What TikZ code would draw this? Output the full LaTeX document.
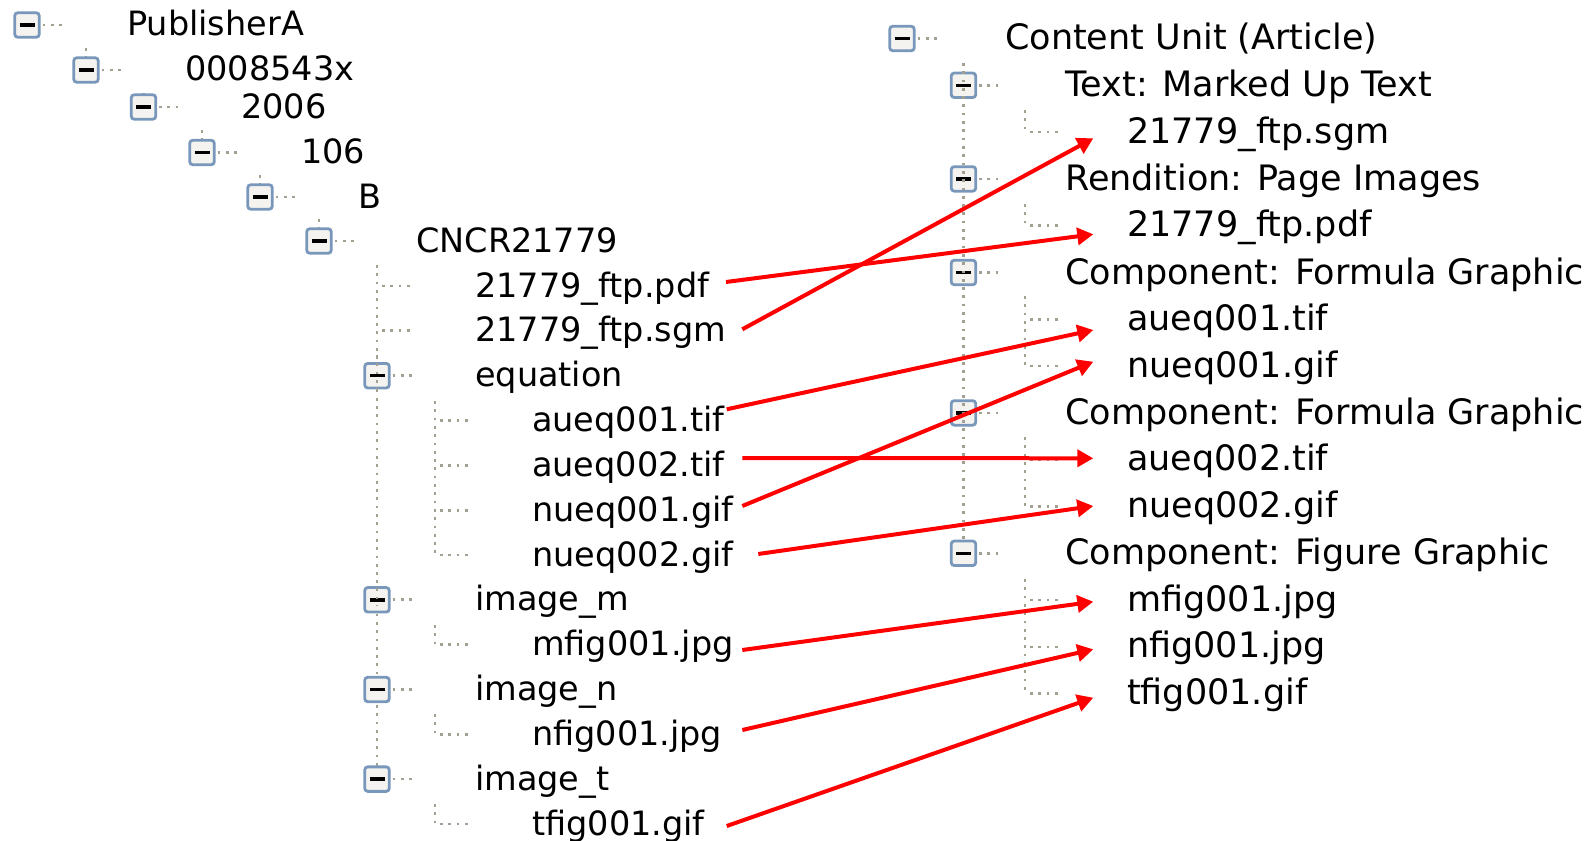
\documentclass[tikz,border=0pt]{standalone}
\usepackage{fontspec}
\setmainfont{DejaVu Sans}
\usetikzlibrary{arrows.meta}
\definecolor{boxblue}{HTML}{7897BA}
\definecolor{boxfill}{HTML}{F4F3EF}
\definecolor{dotgray}{HTML}{A3A091}
\newcommand\fsL{\fontsize{33.5}{40}\selectfont}
\newcommand\fsR{\fontsize{35}{42}\selectfont}
\tikzset{
  tbox/.style={draw=boxblue, line width=2.8pt, rounded corners=3pt, fill=boxfill,
    minimum size=24.5pt, inner sep=0pt},
  minus/.style={draw=black, line width=3.4pt},
  lblL/.style={anchor=base west, inner sep=0pt, font=\fsL},
  lblR/.style={anchor=base west, inner sep=0pt, font=\fsR},
  dots/.style={draw=dotgray, line width=2.7pt, dash pattern=on 2.7pt off 5.6pt},
  arr/.style={draw=red, line width=4pt, -{Triangle[length=16pt,width=17pt]}},
}
\begin{document}
\begin{tikzpicture}[x=1pt,y=-1pt]
\useasboundingbox (0,0) rectangle (1589,840);

% ---------------- left tree: dotted lines ----------------
\draw[dots] (86,48) -- (86,70);
\draw[dots] (143.5,93) -- (143.5,107);
\draw[dots] (202,130) -- (202,152.5);
\draw[dots] (260,175) -- (260,197);
\draw[dots] (319,219) -- (319,241);
\draw[dots] (377,265) -- (377,779.1);
\draw[dots] (435,401) -- (435,555);
\draw[dots] (435,625) -- (435,644.6);
\draw[dots] (435,714) -- (435,734.3);
\draw[dots] (435,804) -- (435,824);
% leaf connectors
\draw[dots] (382,286) -- (413,286);
\draw[dots] (382,330.8) -- (413,330.8);
\foreach \r in {420.5,465.3,510.2,555,644.6,734.3,824}
  \draw[dots] (440,\r) -- (471,\r);

% ---------------- left tree: boxes ----------------
\node[tbox] (bPub) at (27,25) {};
\node[tbox] (bIss) at (86,70) {};
\node[tbox] (bYr) at (143.5,107) {};
\node[tbox] (bVol) at (202,152.5) {};
\node[tbox] (bB) at (260,197) {};
\node[tbox] (bCN) at (319,241) {};
\node[tbox] (bEq) at (377,375.7) {};
\node[tbox] (bIm) at (377,599.8) {};
\node[tbox] (bIn) at (377,689.5) {};
\node[tbox] (bIt) at (377,779.1) {};
\foreach \b in {bPub,bIss,bYr,bVol,bB,bCN,bEq,bIm,bIn,bIt}{
  \draw[minus] ([xshift=-7.5pt]\b.center) -- ([xshift=7.5pt]\b.center);
  \draw[dots] ([xshift=2pt]\b.east) -- ++(22,0);
}
\draw[dots] (377,355) -- (377,395);
\draw[dots] (377,580) -- (377,605);

% ---------------- left tree: labels ----------------
\node[lblL] (tPub) at (127,36) {PublisherA};
\node[lblL] (tIss) at (185,81) {0008543x};
\node[lblL] (tYr) at (241,118) {2006};
\node[lblL] (tVol) at (301,163.5) {106};
\node[lblL] (tB) at (358,208) {B};
\node[lblL] (tCN) at (416,252) {CNCR21779};
\node[lblL] (lpdf) at (475,297) {21779\_ftp.pdf};
\node[lblL] (lsgm) at (475,341.8) {21779\_ftp.sgm};
\node[lblL] (tEq) at (475,386.7) {equation};
\node[lblL] (lau1) at (532,431.5) {aueq001.tif};
\node[lblL] (lau2) at (532,476.3) {aueq002.tif};
\node[lblL] (lnu1) at (532,521.2) {nueq001.gif};
\node[lblL] (lnu2) at (532,566) {nueq002.gif};
\node[lblL] (tIm) at (475,610.8) {image\_m};
\node[lblL] (lmf) at (532,655.6) {mfig001.jpg};
\node[lblL] (tIn) at (475,700.5) {image\_n};
\node[lblL] (lnf) at (532,745.3) {nfig001.jpg};
\node[lblL] (tIt) at (475,790.1) {image\_t};
\node[lblL] (ltf) at (532,835) {tfig001.gif};

% ---------------- right tree: dotted lines ----------------
\draw[dots] (963.5,63) -- (963.5,553.3);
\draw[dots] (1025,110) -- (1025,132.1);
\draw[dots] (1025,204) -- (1025,225.7);
\draw[dots] (1025,296) -- (1025,366.1);
\draw[dots] (1025,437) -- (1025,506.5);
\draw[dots] (1025,579) -- (1025,693.7);
\foreach \r in {132.1,225.7,319.3,366.1,459.7,506.5,600.1,646.9,693.7}
  \draw[dots] (1030,\r) -- (1062,\r);

% ---------------- right tree: boxes ----------------
\node[tbox] (bCU) at (902,38.5) {};
\node[tbox] (bTx) at (963.5,85.3) {};
\node[tbox] (bRe) at (963.5,178.9) {};
\node[tbox] (bF1) at (963.5,272.5) {};
\node[tbox] (bF2) at (963.5,412.9) {};
\node[tbox] (bFg) at (963.5,553.3) {};
\foreach \b in {bCU,bTx,bRe,bF1,bF2,bFg}{
  \draw[minus] ([xshift=-7.5pt]\b.center) -- ([xshift=7.5pt]\b.center);
  \draw[dots] ([xshift=2pt]\b.east) -- ++(22,0);
}
\draw[dots] (963.5,63) -- (963.5,425);

% ---------------- right tree: labels ----------------
\node[lblR] (tCU) at (1005,50) {Content Unit (Article)};
\node[lblR] (tTx) at (1065,96.8) {Text: Marked Up Text};
\node[lblR] (rsgm) at (1127,143.1) {21779\_ftp.sgm};
\node[lblR] (tRe) at (1065,190.4) {Rendition: Page Images};
\node[lblR] (rpdf) at (1127,236.7) {21779\_ftp.pdf};
\node[lblR] (tF1) at (1065,284) {Component: Formula Graphic};
\node[lblR] (rau1) at (1127,330.3) {aueq001.tif};
\node[lblR] (rnu1) at (1127,377.1) {nueq001.gif};
\node[lblR] (tF2) at (1065,424.4) {Component: Formula Graphic};
\node[lblR] (rau2) at (1127,470.7) {aueq002.tif};
\node[lblR] (rnu2) at (1127,517.5) {nueq002.gif};
\node[lblR] (tFg) at (1065,564.8) {Component: Figure Graphic};
\node[lblR] (rmf) at (1127,611.1) {mfig001.jpg};
\node[lblR] (rnf) at (1127,657.9) {nfig001.jpg};
\node[lblR] (rtf) at (1127,704.7) {tfig001.gif};

% ---------------- mapping arrows ----------------
\draw[arr] ([shift={(251,-15)}]lpdf.base west) -- ([shift={(-33.7,-2.4)}]rpdf.base west);
\draw[arr] ([shift={(267.3,-12.5)}]lsgm.base west) -- ([shift={(-33.7,-4.8)}]rsgm.base west);
\draw[arr] ([shift={(194.7,-22.2)}]lau1.base west) -- ([shift={(-33.7,-0.3)}]rau1.base west);
\draw[arr] ([shift={(210.3,-18.3)}]lau2.base west) -- ([shift={(-33.7,-12.4)}]rau2.base west);
\draw[arr] ([shift={(210.3,-15.2)}]lnu1.base west) -- ([shift={(-33.7,-15.4)}]rnu1.base west);
\draw[arr] ([shift={(226.3,-12)}]lnu2.base west) -- ([shift={(-33.7,-11.5)}]rnu2.base west);
\draw[arr] ([shift={(210.3,-5.6)}]lmf.base west) -- ([shift={(-33.7,-9.4)}]rmf.base west);
\draw[arr] ([shift={(210.3,-15.3)}]lnf.base west) -- ([shift={(-33.7,-8.6)}]rnf.base west);
\draw[arr] ([shift={(194.7,-9)}]ltf.base west) -- ([shift={(-33.7,-7)}]rtf.base west);
\end{tikzpicture}
\end{document}
